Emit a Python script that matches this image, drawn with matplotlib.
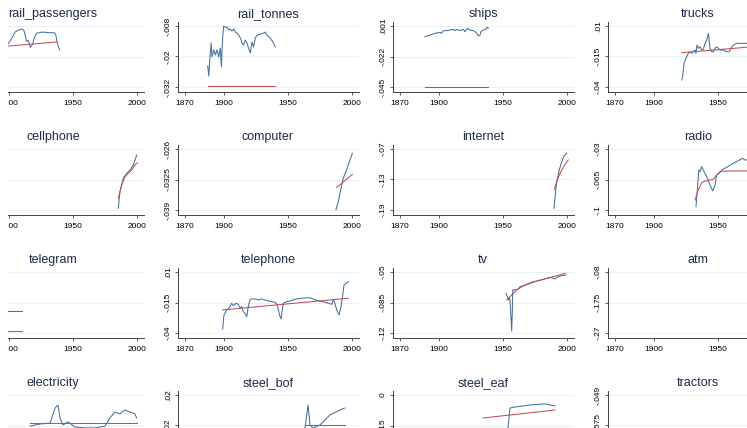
import matplotlib
matplotlib.use("Agg")
import matplotlib.pyplot as plt
from matplotlib.patches import Rectangle

plt.rcParams['font.family'] = ['Liberation Sans', 'DejaVu Sans']

# ---------------------------------------------------------------- data
rail_passengers_years = [1898, 1900, 1903, 1905, 1907, 1909, 1911, 1912, 1913, 1914, 1915, 1916,
                         1917, 1918, 1919, 1920, 1921, 1922, 1923, 1925, 1927, 1930, 1933, 1936,
                         1937, 1938, 1939, 1940]
rail_passengers_actual = [-.019, -.017, -.011, -.006, -.0045, -.0035, -.003, -.0045, -.009, -.015,
                          -.014, -.0165, -.021, -.0195, -.0167, -.012, -.009, -.007, -.0068, -.0063,
                          -.006, -.0064, -.0066, -.0067, -.0095, -.016, -.021, -.0236]
rail_passengers_fit_years = [1898, 1938]
rail_passengers_fit = [-.0199, -.0157]

rail_tonnes_years = [1887.6, 1888.4, 1889.2, 1890.3, 1891, 1892.3, 1893.6, 1894.9, 1896.2, 1897.5,
                     1898.3, 1898.8, 1899.3, 1900.1, 1900.8, 1902.7, 1904, 1905.3, 1906.6, 1907.9,
                     1909.2, 1910.5, 1911.8, 1913.1, 1914.4, 1915.6, 1917, 1918.3, 1919.5, 1920.9,
                     1922.2, 1923.4, 1924.8, 1926.1, 1928.7, 1931.2, 1932.6, 1933.9, 1936.4, 1939,
                     1940.3]
rail_tonnes_actual = [-.0237, -.0277, -.0214, -.0147, -.0202, -.0174, -.0194, -.0174, -.0202, -.0167,
                      -.0241, -.0174, -.0123, -.0080, -.0084, -.0084, -.0096, -.0092, -.0100, -.0092,
                      -.0104, -.0108, -.0116, -.0127, -.0147, -.0155, -.0135, -.0147, -.0167, -.0186,
                      -.0143, -.0163, -.0127, -.0116, -.0112, -.0108, -.0104, -.0116, -.0127, -.0147,
                      -.0163]
rail_tonnes_fit_years = [1887.6, 1940.3]
rail_tonnes_fit = [-.0316, -.0316]

ships_years = [1889.4, 1893.3, 1897.2, 1901.1, 1902.4, 1903.7, 1906.3, 1908.9, 1911.5, 1912.8,
               1914.2, 1916.7, 1919.3, 1920.6, 1922.4, 1924.5, 1927.1, 1928.5, 1929.8, 1931,
               1932.4, 1933.1, 1935, 1937, 1938.1, 1938.8]
ships_actual = [-.0071, -.0058, -.0045, -.0038, -.0045, -.0025, -.0025, -.0020, -.0015, -.0025,
                -.0015, -.0025, -.0015, -.0033, -.0007, -.0020, -.0025, -.0033, -.0045, -.0065,
                -.0058, -.0033, -.0020, -.0015, .0000, -.0007]
ships_fit_years = [1889.4, 1938.8]
ships_fit = [-.0448, -.0448]

trucks_years = [1922, 1922.8, 1923.8, 1925.3, 1927.1, 1928.5, 1929.8, 1931, 1932.4, 1933.1, 1933.9,
                1934.9, 1936.3, 1937.6, 1938.8, 1940.2, 1941.5, 1942.8, 1943.5, 1944.1, 1945.4,
                1946.7, 1948, 1949.3, 1951.9, 1954.5, 1957.1, 1959.2, 1960.3, 1962.3, 1964.9,
                1968.8, 1972.8, 1980, 1990, 2000]
trucks_actual = [-.0343, -.0302, -.0206, -.0165, -.0124, -.0111, -.0124, -.0111, -.0097, -.0124,
                 -.0056, -.0083, -.0070, -.0097, -.0091, -.0042, -.0015, .0040, -.0029, -.0083,
                 -.0111, -.0111, -.0083, -.0070, -.0097, -.0097, -.0111, -.0111, -.0083, -.0056,
                 -.0042, -.0042, -.0042, -.0040, -.0045, -.0040]
trucks_fit_years = [1922, 1972.8, 2000]
trucks_fit = [-.0119, -.0074, -.0050]

cellphone_years = [1985.7, 1987, 1989.6, 1992.2, 1994.9, 1997.5, 1998.8, 2000.1]
cellphone_actual = [-.2944, -.24, -.196, -.18, -.169, -.152, -.136, -.12]
cellphone_fit_years = [1985.7, 1988.4, 1990.9, 1993.5, 1996.2, 1998.8, 2000.6]
cellphone_fit = [-.2616, -.218, -.191, -.18, -.169, -.152, -.145]

computer_years = [1987.8, 1989.6, 1991.5, 1993.5, 1995.6, 1997.4, 1998.8, 2000.6]
computer_actual = [-.0389, -.0372, -.0347, -.0322, -.0308, -.0294, -.0283, -.0269]
computer_fit_years = [1988.4, 2000.6]
computer_fit = [-.0342, -.0314]

internet_years = [1990.2, 1991, 1992.3, 1994.3, 1996.2, 1998, 2000.1]
internet_actual = [-.1867, -.1638, -.1343, -.1113, -.095, -.0838, -.0785]
internet_fit_years = [1990.4, 1992.3, 1994.9, 1998, 2001.3]
internet_fit = [-.1493, -.1343, -.1178, -.1034, -.0916]

radio_years = [1933.1, 1934.2, 1935.3, 1936.3, 1937.6, 1938.8, 1941.5, 1944.1, 1946.2, 1948,
               1949.3, 1951.3, 1953.2, 1957.1, 1962.3, 1966.2, 1969.6, 1971.4, 1972.7, 1980,
               1990, 2000]
radio_actual = [-.0962, -.0770, -.0541, -.0560, -.0503, -.0541, -.0618, -.0713, -.0782, -.0713,
                -.0598, -.0579, -.0541, -.0510, -.0464, -.0434, -.0407, -.0426, -.0426, -.0420,
                -.0415, -.0410]
radio_fit_years = [1932.4, 1934.9, 1937.6, 1940.2, 1944.1, 1946.7, 1949.3, 1951.9, 1955.8, 2000]
radio_fit = [-.0885, -.0770, -.0687, -.0667, -.0656, -.0648, -.0598, -.0560, -.0552, -.0552]

telegram_years = [1880, 1882, 1890, 1900, 1910.3]
telegram_actual = [-.0384, -.0378, -.0384, -.0384, -.0384]
telegram_fit_years = [1880, 1910.3]
telegram_fit = [-.058, -.058]

telephone_years = [1899.3, 1900.3, 1902.4, 1904.5, 1906.3, 1907.6, 1909.7, 1911.5, 1912.8, 1914.2,
                   1915.4, 1916.7, 1918.1, 1919.3, 1920.6, 1922, 1924.5, 1927.1, 1929.8, 1932.4,
                   1934.9, 1937.6, 1940.2, 1942, 1942.8, 1944.1, 1944.9, 1945.6, 1946.7, 1949.3,
                   1951.9, 1954.5, 1957.1, 1961, 1966.2, 1968.8, 1971.4, 1975.3, 1979.2, 1981.8,
                   1984.5, 1985.7, 1987, 1988.4, 1990.2, 1991.5, 1993.1, 1994.1, 1995.6, 1997.4]
telephone_actual = [-.0367, -.0252, -.0211, -.0193, -.0156, -.0176, -.0156, -.0165, -.0197, -.0184,
                    -.0225, -.0238, -.0266, -.0184, -.0129, -.0121, -.0121, -.0129, -.0121, -.0129,
                    -.0138, -.0143, -.0148, -.0170, -.0211, -.0266, -.0285, -.0230, -.0156, -.0143,
                    -.0138, -.0129, -.0121, -.0115, -.0111, -.0115, -.0129, -.0138, -.0148, -.0156,
                    -.0165, -.0129, -.0156, -.0211, -.0252, -.0197, -.0088, -.0006, .0008, .0021]
telephone_fit_years = [1899.3, 1997.4]
telephone_fit = [-.0211, -.0115]

tv_years = [1952.7, 1953.7, 1954.8, 1955.3, 1955.8, 1956.6, 1957.1, 1957.6, 1957.9, 1959.7, 1962.3,
            1963.6, 1966.2, 1968.8, 1972.8, 1976.7, 1981.8, 1987, 1991, 1992.3, 1996.2, 1999.5]
tv_actual = [-.0744, -.0783, -.0821, -.0795, -.0821, -.1031, -.1177, -.0955, -.0706, -.0706,
             -.0695, -.0668, -.0657, -.0641, -.0618, -.0603, -.0584, -.0561, -.0580, -.0561,
             -.0542, -.0534]
tv_fit_years = [1953.2, 1957.1, 1961, 1966.2, 1974, 1981.8, 1989.6, 1998.8]
tv_fit = [-.0821, -.0764, -.0706, -.0660, -.0618, -.0584, -.0554, -.0515]

electricity_years = [1916.7, 1924.5, 1932.4, 1936.3, 1938.6, 1940.2, 1942.5, 1946.4, 1951.9, 1959.7,
                     1967.5, 1975.3, 1979.2, 1983.1, 1987, 1990.9, 1994.8, 1998.7, 2000]
electricity_actual = [-.0102, -.0095, -.0092, -.0043, -.0033, -.0075, -.0098, -.0088, -.0105, -.0108,
                      -.0108, -.0102, -.0075, -.0056, -.0062, -.0049, -.0056, -.0062, -.0075]
electricity_fit_years = [1916.7, 2000]
electricity_fit = [-.0092, -.0092]

steel_bof_years = [1963.6, 1966, 1967.5, 1969.9, 1975.3, 1983.1, 1990.9, 1994.8]
steel_bof_actual = [-.0233, .0069, -.0193, -.0233, -.0193, -.0062, .0003, .0030]
steel_bof_fit_years = [1963.6, 1994.8]
steel_bof_fit = [-.0193, -.0193]

steel_eaf_years = [1951.9, 1954.2, 1955.8, 1959.7, 1971.4, 1983.1, 1991]
steel_eaf_actual = [-.172, -.162, -.064, -.059, -.049, -.044, -.054]
steel_eaf_fit_years = [1934.7, 1991]
steel_eaf_fit = [-.113, -.0738]

# panel name -> (actual years, actual values, fit years, fit values)
series = {
    "rail_passengers": (rail_passengers_years, rail_passengers_actual, rail_passengers_fit_years, rail_passengers_fit),
    "rail_tonnes": (rail_tonnes_years, rail_tonnes_actual, rail_tonnes_fit_years, rail_tonnes_fit),
    "ships": (ships_years, ships_actual, ships_fit_years, ships_fit),
    "trucks": (trucks_years, trucks_actual, trucks_fit_years, trucks_fit),
    "cellphone": (cellphone_years, cellphone_actual, cellphone_fit_years, cellphone_fit),
    "computer": (computer_years, computer_actual, computer_fit_years, computer_fit),
    "internet": (internet_years, internet_actual, internet_fit_years, internet_fit),
    "radio": (radio_years, radio_actual, radio_fit_years, radio_fit),
    "telegram": (telegram_years, telegram_actual, telegram_fit_years, telegram_fit),
    "telephone": (telephone_years, telephone_actual, telephone_fit_years, telephone_fit),
    "tv": (tv_years, tv_actual, tv_fit_years, tv_fit),
    "atm": None,
    "electricity": (electricity_years, electricity_actual, electricity_fit_years, electricity_fit),
    "steel_bof": (steel_bof_years, steel_bof_actual, steel_bof_fit_years, steel_bof_fit),
    "steel_eaf": (steel_eaf_years, steel_eaf_actual, steel_eaf_fit_years, steel_eaf_fit),
    "tractors": None,
}

panel_rows = [
    ["rail_passengers", "rail_tonnes", "ships", "trucks"],
    ["cellphone", "computer", "internet", "radio"],
    ["telegram", "telephone", "tv", "atm"],
    ["electricity", "steel_bof", "steel_eaf", "tractors"],
]

# y-axis labels (bottom, middle, top) per panel
y_ticks = {
    "rail_passengers": ["-.06", "-.03", "0"],
    "rail_tonnes": ["-.032", "-.02", "-.008"],
    "ships": ["-.045", "-.022", ".001"],
    "trucks": ["-.04", "-.015", ".01"],
    "cellphone": ["-.3", "-.2", "-.1"],
    "computer": ["-.039", "-.0325", "-.026"],
    "internet": ["-.19", "-.13", "-.07"],
    "radio": ["-.1", "-.065", "-.03"],
    "telegram": ["-.06", "-.03", "0"],
    "telephone": ["-.04", "-.015", ".01"],
    "tv": ["-.12", "-.085", "-.05"],
    "atm": ["-.27", "-.175", "-.08"],
    "electricity": ["-.02", "-.01", "0"],
    "steel_bof": ["-.06", "-.02", ".02"],
    "steel_eaf": ["-.3", "-.15", "0"],
    "tractors": ["-.066", "-.0575", "-.049"],
}
x_ticks = [1870, 1900, 1950, 2000]

# ---------------------------------------------------------------- layout
W, H = 747, 428
fig = plt.figure(figsize=(W / 100, H / 100), dpi=100)
fig.patch.set_facecolor("white")

col_left = [-37.5, 177.5, 392.5, 607.5]
row_top = [22, 145, 268, 391]
ax_w, ax_h = 181, 70
pad_top, pad_bot = 4, 5

c_actual = "#44709c"
c_fit = "#bf4e57"
c_title = "#1c2a4a"
c_grid = "#eaf0f3"
c_axis = "#404040"

for r, names in enumerate(panel_rows):
    for c, name in enumerate(names):
        left = col_left[c]
        top = row_top[r]
        ax = fig.add_axes([left / W, 1 - (top + ax_h) / H, ax_w / W, ax_h / H])
        labels = y_ticks[name]
        vals = [float(s) for s in labels]
        span = vals[2] - vals[0]
        inner = ax_h - pad_top - pad_bot
        ax.set_ylim(vals[0] - pad_bot / inner * span, vals[2] + pad_top / inner * span)
        ax.set_xlim(1864, 2005.4)
        ax.set_yticks(vals)
        ax.set_yticklabels(labels, rotation=90, va="center")
        ax.set_xticks(x_ticks)
        ax.set_xticklabels([str(x) for x in x_ticks])
        ax.tick_params(axis="both", labelsize=6, length=2.5, width=0.6, color=c_axis,
                       labelcolor="black")
        ax.tick_params(axis="y", pad=1.5)
        ax.tick_params(axis="x", pad=3)
        ax.grid(axis="y", color=c_grid, lw=0.8)
        ax.set_axisbelow(True)
        for s in ("top", "right"):
            ax.spines[s].set_visible(False)
        for s in ("left", "bottom"):
            ax.spines[s].set_color(c_axis)
            ax.spines[s].set_linewidth(0.7)
        ax.set_title(name, fontsize=9, color=c_title, pad=3.8)
        data = series[name]
        if data is not None:
            xa, ya, xf, yf = data
            ax.plot(xa, ya, color=c_actual, lw=0.75)
            ax.plot(xf, yf, color=c_fit, lw=0.75)

# blank margin on the left edge
fig.add_artist(Rectangle((0, 0), 8 / W, 1, transform=fig.transFigure,
                         facecolor="white", edgecolor="none", zorder=10))

fig.savefig("out.png", dpi=100)
